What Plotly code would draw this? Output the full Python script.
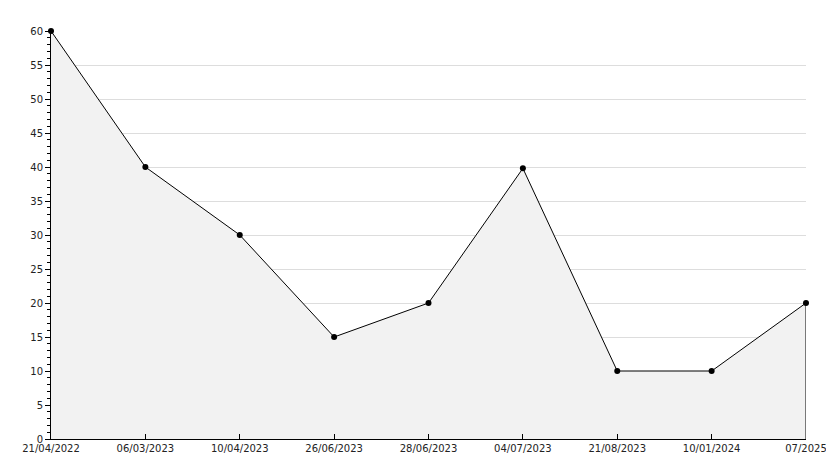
import plotly.graph_objects as go

dates = ["21/04/2022", "06/03/2023", "10/04/2023", "26/06/2023", "28/06/2023",
         "04/07/2023", "21/08/2023", "10/01/2024", "07/2025"]
values = [60, 40, 30, 15, 20, 39.8, 10, 10, 20]

fig = go.Figure()
fig.add_trace(go.Scatter(
    x=dates, y=values, mode="lines+markers",
    fill="tozeroy", fillcolor="#f2f2f2",
    line=dict(color="black", width=1),
    marker=dict(symbol="circle", size=6, color="black"),
    hoverinfo="x+y", showlegend=False, cliponaxis=False,
))
# closing edge of filled area on the right
fig.add_trace(go.Scatter(
    x=[dates[-1], dates[-1]], y=[0, values[-1]], mode="lines",
    line=dict(color="black", width=1), hoverinfo="skip", showlegend=False,
))

fig.update_layout(
    width=834, height=468,
    margin=dict(l=43, r=36, t=23, b=37),
    paper_bgcolor="white", plot_bgcolor="white",
    font=dict(family="DejaVu Sans", size=10, color="#222222"),
)
fig.update_xaxes(
    type="category", range=[0, len(dates) - 1], automargin=False,
    showgrid=False, zeroline=False,
    showline=True, linecolor="black", linewidth=1,
    ticks="inside", ticklen=5, tickcolor="black",
    tickfont=dict(size=10, color="#222222"),
)
fig.update_yaxes(
    range=[0, 60], dtick=5, tick0=0, automargin=False,
    showgrid=True, gridcolor="#dddddd", gridwidth=1, zeroline=False,
    showline=True, linecolor="black", linewidth=1,
    ticks="outside", ticklen=5, tickcolor="black",
    minor=dict(dtick=1, ticks="outside", ticklen=3, tickcolor="black", showgrid=False),
    tickfont=dict(size=10, color="#222222"),
)

fig.write_html("out.html")
